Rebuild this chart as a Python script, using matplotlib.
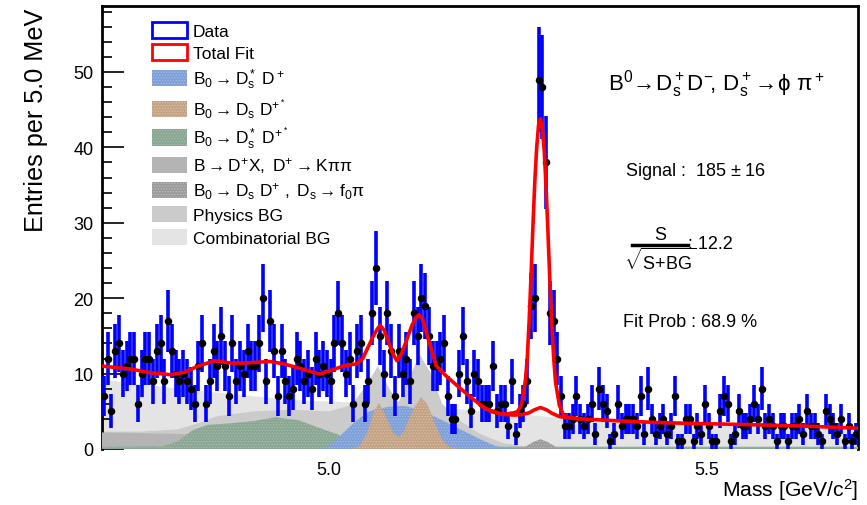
import numpy as np
import matplotlib
matplotlib.use("Agg")
import matplotlib.pyplot as plt
from matplotlib.patches import Patch
from matplotlib.lines import Line2D

plt.rcParams['font.family'] = ['Liberation Sans', 'DejaVu Sans']
plt.rcParams['mathtext.fontset'] = 'custom'
plt.rcParams['mathtext.rm'] = 'Liberation Sans'
plt.rcParams['mathtext.it'] = 'Liberation Sans:italic'
plt.rcParams['mathtext.bf'] = 'Liberation Sans:bold'
plt.rcParams['hatch.linewidth'] = 0.6

# ---------------- data (5 MeV bins, 4.70 - 5.70 GeV) ----------------
bin_lo, bin_w = 4.70, 0.005
counts = [
    7, 12, 5, 13, 14, 10, 11, 12, 12, 6,
    10, 12, 12, 9, 13, 14, 9, 17, 13, 10,
    9, 10, 9, 8, 6, 11, 14, 6, 9, 13,
    11, 15, 11, 7, 14, 9, 11, 10, 13, 11,
    11, 14, 20, 9, 17, 13, 7, 13, 9, 7,
    8, 12, 11, 9, 10, 8, 12, 10, 11, 10,
    9, 14, 18, 14, 10, 12, 6, 13, 14, 6,
    9, 18, 24, 15, 10, 18, 13, 7, 13, 10,
    12, 9, 18, 15, 20, 19, 15, 11, 11, 12,
    14, 7, 4, 4, 10, 15, 9, 5, 10, 9,
    6, 6, 6, 11, 5, 6, 6, 3, 9, 2,
    5, 6, 9, 19, 20, 49, 48, 38, 18, 17,
    12, 7, 3, 3, 4, 7, 4, 3, 4, 6,
    2, 8, 6, 5, 1, 2, 6, 3, 4, 4,
    4, 3, 7, 2, 8, 4, 2, 3, 4, 2,
    3, 7, 1, 1, 4, 4, 1, 3, 2, 6,
    3, 1, 1, 5, 7, 6, 1, 2, 5, 3,
    3, 4, 6, 4, 8, 3, 4, 3, 1, 3,
    3, 1, 3, 3, 4, 2, 5, 3, 3, 2,
    1, 5, 4, 3, 2, 4, 1, 3, 1, 2,
]

# ---------------- fit curves ----------------
fit_mass = [4.700, 4.738, 4.765, 4.791, 4.810, 4.827, 4.849, 4.871, 4.887, 4.905,
            4.922, 4.940, 4.958, 4.975, 4.988, 5.005, 5.019, 5.030, 5.037, 5.045,
            5.051, 5.058, 5.064, 5.068, 5.073, 5.078, 5.084, 5.090, 5.096, 5.102,
            5.110, 5.115, 5.119, 5.124, 5.128, 5.133, 5.142, 5.155, 5.172, 5.191,
            5.208, 5.230, 5.245, 5.250, 5.255, 5.260, 5.2625, 5.265, 5.2675, 5.270,
            5.2725, 5.275, 5.2775, 5.280, 5.2825, 5.285, 5.2875, 5.290, 5.2925, 5.295,
            5.2975, 5.300, 5.305, 5.310, 5.315, 5.332, 5.380, 5.438, 5.500, 5.570,
            5.640, 5.700]
fit_total = [11.0, 10.6, 10.1, 9.85, 10.2, 11.0, 11.7, 11.4, 11.4, 11.5,
             11.6, 11.3, 10.8, 10.3, 9.95, 10.5, 11.0, 11.2, 11.3, 12.0,
             13.3, 14.8, 15.9, 16.4, 15.8, 14.5, 12.8, 11.7, 12.6, 14.2,
             16.4, 17.4, 17.8, 17.2, 15.8, 14.1, 11.05, 9.7, 8.2, 6.6,
             5.3, 4.6, 4.8, 5.0, 5.9, 9.0, 12.0, 17.0, 23.0, 29.5,
             35.5, 40.0, 43.0, 43.8, 42.5, 39.5, 34.5, 28.5, 22.0, 16.5,
             12.0, 8.8, 5.8, 4.6, 4.2, 4.0, 3.75, 3.5, 3.35, 3.2,
             3.0, 2.75]

bkg_mass = [5.200, 5.215, 5.230, 5.245, 5.255, 5.265, 5.272, 5.280, 5.288, 5.295,
            5.305, 5.315, 5.332]
bkg_total = [5.8, 4.95, 4.6, 4.5, 4.55, 4.8, 5.2, 5.5, 5.2, 4.75,
             4.3, 4.15, 4.0]

comb_mass = [4.70, 4.75, 4.80, 4.85, 4.90, 4.95, 5.00, 5.05, 5.10, 5.15,
             5.20, 5.25, 5.30, 5.35, 5.40, 5.45, 5.50, 5.55, 5.60, 5.65, 5.70]
comb_bg = [9.2, 8.6, 8.0, 7.5, 7.0, 6.5, 6.3, 6.1, 5.8, 5.5,
           5.0, 4.6, 4.2, 3.85, 3.6, 3.4, 3.25, 3.1, 2.95, 2.8, 2.65]

phys_mass = [4.70, 4.75, 4.80, 4.83, 4.85, 4.90, 4.95, 5.00, 5.03, 5.05,
             5.065, 5.08, 5.092, 5.105, 5.12, 5.135, 5.15, 5.17, 5.20, 5.23,
             5.26, 5.30, 5.70]
phys_bg = [2.3, 2.3, 2.6, 3.5, 4.3, 5.0, 5.2, 5.0, 5.8, 8.5,
           11.0, 8.0, 6.2, 9.0, 12.6, 10.0, 6.0, 4.0, 2.0, 0.8,
           0.3, 0.2, 0.2]

dx_mass = [4.70, 4.75, 4.80, 4.85, 4.90, 4.95, 5.00, 5.05, 5.10, 5.70]
dx_bg = [2.2, 2.1, 2.0, 1.8, 1.5, 1.1, 0.6, 0.2, 0.0, 0.0]

green_mass = [4.70, 4.78, 4.80, 4.82, 4.84, 4.87, 4.90, 4.93, 4.96, 4.99,
              5.01, 5.03, 5.05, 5.08, 5.70]
green_bg = [0.3, 0.35, 1.0, 2.5, 3.2, 3.4, 3.7, 4.2, 3.8, 2.7,
            2.0, 1.2, 0.4, 0.3, 0.3]

blue_mass = [4.99, 5.00, 5.01, 5.02, 5.03, 5.04, 5.05, 5.06, 5.08, 5.10,
             5.12, 5.14, 5.16, 5.18, 5.20, 5.22, 5.24]
blue_bg = [0.0, 0.4, 1.2, 2.2, 3.2, 4.0, 4.8, 5.2, 5.6, 5.7,
           5.2, 4.3, 3.3, 2.3, 1.3, 0.4, 0.0]

brown_mass = [5.03, 5.04, 5.05, 5.06, 5.066, 5.075, 5.085, 5.093, 5.10, 5.11,
              5.122, 5.13, 5.14, 5.15, 5.16, 5.17]
brown_bg = [0.0, 0.3, 2.0, 5.0, 6.1, 4.5, 2.2, 1.6, 2.5, 5.0,
            6.85, 6.0, 3.5, 1.2, 0.2, 0.0]

f0_mass = [5.25, 5.26, 5.27, 5.28, 5.29, 5.30, 5.31]
f0_bg = [0.0, 0.3, 0.9, 1.3, 0.9, 0.3, 0.0]

legend_labels = [
    'Data',
    'Total Fit',
    r'$\mathregular{B_0 \rightarrow D_s^* \ D^+}$',
    r'$\mathregular{B_0 \rightarrow D_s \ D^{+^*}}$',
    r'$\mathregular{B_0 \rightarrow D_s^* \ D^{+^*}}$',
    r'$\mathregular{B \rightarrow D^{+}X,\ D^{+} \rightarrow K\pi\pi}$',
    r'$\mathregular{B_0 \rightarrow D_s\ D^{+}\ ,\ D_s \rightarrow f_0\pi}$',
    'Physics BG',
    'Combinatorial BG',
]

# ---------------- figure ----------------
W, H = 867, 506
fig = plt.figure(figsize=(W / 100, H / 100), dpi=100)
ax = fig.add_axes([102 / W, 1 - 450 / H, 756 / W, 443 / H])


def fx(px):
    return px / W


def fy(py):
    return 1 - py / H


c_comb, c_phys, c_dx = '#e4e4e4', '#cbcbcb', '#b4b4b4'
c_green, c_blue, c_brown, c_f0 = '#88a692', '#7e9fd8', '#c3a283', '#9b9b9b'

ax.fill_between(comb_mass, 0, comb_bg, facecolor=c_comb, lw=0, zorder=1)
ax.fill_between(phys_mass, 0, phys_bg, facecolor=c_phys, lw=0, zorder=2)
ax.fill_between(dx_mass, 0, dx_bg, facecolor=c_dx, lw=0, zorder=3)
ax.fill_between(green_mass, 0, green_bg, facecolor=c_green, edgecolor='#a9c0b0',
                hatch='......', lw=0, zorder=4)
ax.fill_between(blue_mass, 0, blue_bg, facecolor=c_blue, edgecolor='#a5bde6',
                hatch='......', lw=0, zorder=5)
ax.fill_between(brown_mass, 0, brown_bg, facecolor=c_brown, edgecolor='#dcc3ad',
                hatch='......', lw=0, zorder=6)
ax.fill_between(f0_mass, 0, f0_bg, facecolor=c_f0, edgecolor='#bdbdbd',
                hatch='......', lw=0, zorder=6)

centers = bin_lo + bin_w * (np.arange(len(counts)) + 0.5)
cnt = np.array(counts, dtype=float)
err = np.sqrt(cnt)
ax.errorbar(centers, cnt, yerr=err, fmt='o', color='black', ms=4.4,
            ecolor='#0000ff', elinewidth=2.6, capsize=0, zorder=7)

ax.plot(bkg_mass, bkg_total, color='#ff0000', lw=2.6, zorder=8, solid_capstyle='round')
ax.plot(fit_mass, fit_total, color='#ff0000', lw=2.6, zorder=9, solid_capstyle='round')

ax.set_xlim(4.70, 5.70)
ax.set_ylim(0, 58.75)
ax.set_yticks([0, 10, 20, 30, 40, 50])
ax.set_yticks(np.arange(0, 59, 2), minor=True)
ax.set_xticks([5.0, 5.5])
ax.set_xticklabels(['5.0', '5.5'])
ax.tick_params(axis='y', which='major', direction='in', length=15.5, width=1.2,
               labelsize=13, pad=6)
ax.tick_params(axis='y', which='minor', direction='in', length=7.5, width=1.2)
ax.tick_params(axis='x', which='both', length=0, labelsize=13, pad=9)
for s in ['left', 'top', 'right']:
    ax.spines[s].set_linewidth(2)
ax.spines['bottom'].set_visible(False)

fig.text(fx(36), fy(9), 'Entries per 5.0 MeV', rotation=90, ha='center',
         va='top', fontsize=18.2)
fig.text(fx(858), fy(503), r'Mass [GeV/c$\mathregular{^2}$]', ha='right',
         va='bottom', fontsize=15.2)

# annotations
fig.text(fx(608), fy(84),
         r'$\mathregular{B^0\!\rightarrow\! D_s^+ D^{-}\!,\, D_s^+\!\rightarrow\! \phi\ \pi^+}$',
         fontsize=16, ha='left', va='center')
fig.text(fx(625), fy(171), r'Signal :  185 $\mathregular{\pm}$ 16', fontsize=13,
         ha='left', va='center')
fig.text(fx(660), fy(236), 'S', fontsize=13, ha='center', va='center')
fig.add_artist(Line2D([fx(632), fx(688)], [fy(246), fy(246)],
                      transform=fig.transFigure, color='black', lw=2.5))
fig.text(fx(660), fy(261), r'$\mathregular{\sqrt{S\!+\!BG}}$', fontsize=13,
         ha='center', va='center')
fig.text(fx(688), fy(245), ': 12.2', fontsize=13, ha='left', va='center')
fig.text(fx(623), fy(323), 'Fit Prob : 68.9 %', fontsize=13,
         ha='left', va='center')

handles = [
    Patch(facecolor='white', edgecolor='#0000ff', lw=2),
    Patch(facecolor='white', edgecolor='#ff0000', lw=2),
    Patch(facecolor=c_blue, edgecolor='#a5bde6', hatch='......', lw=0),
    Patch(facecolor=c_brown, edgecolor='#dcc3ad', hatch='......', lw=0),
    Patch(facecolor=c_green, edgecolor='#a9c0b0', hatch='......', lw=0),
    Patch(facecolor=c_dx, lw=0),
    Patch(facecolor=c_f0, edgecolor='#bdbdbd', hatch='......', lw=0),
    Patch(facecolor=c_phys, lw=0),
    Patch(facecolor=c_comb, lw=0),
]
leg = ax.legend(handles, legend_labels, loc='upper left',
                bbox_to_anchor=(50 / 756, 1 - 16 / 443), frameon=False,
                fontsize=12.5, handlelength=2.0, handleheight=1.05,
                handletextpad=0.35, labelspacing=0.3, borderpad=0.0,
                borderaxespad=0.0)

fig.savefig('out.png', dpi=100)
